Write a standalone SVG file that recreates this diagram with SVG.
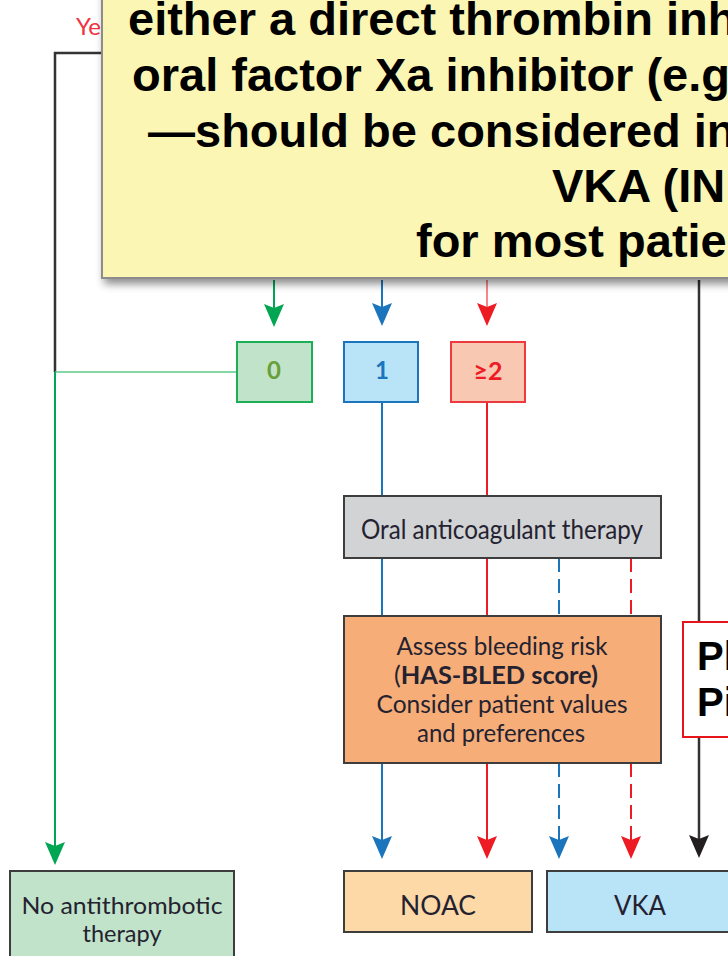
<svg xmlns="http://www.w3.org/2000/svg" width="728" height="956" viewBox="0 0 728 956">
<defs>
<style>
.ln{fill:none;stroke-width:2}
.k{stroke:#333333;stroke-width:2.5}
.g{stroke:#00a651}
.gl{stroke:#5ccb87;stroke-width:1.5}
.b{stroke:#1b75bc}
.r{stroke:#ed1c24}
.rl{stroke:#f26a6f;stroke-width:1.6}
.d{stroke-dasharray:14 7}
.box{stroke:#3d3d3d;stroke-width:2}
.t{font-family:Lato,"Liberation Sans",Arial,sans-serif;fill:#242230;text-anchor:middle}
.big{font-family:"Liberation Sans",Arial,sans-serif;font-weight:bold;font-size:47px;fill:#000}
.num{font-family:Lato,"Liberation Sans",Arial,sans-serif;font-weight:bold;font-size:24px;text-anchor:middle}
</style>
<marker id="mg" markerUnits="userSpaceOnUse" markerWidth="26" markerHeight="24" viewBox="0 -12 26 24" refX="18" refY="0" orient="auto" overflow="visible"><path d="M0,-10 L23,0 L0,10 L4,0 Z" fill="#00a651"/></marker>
<marker id="mb" markerUnits="userSpaceOnUse" markerWidth="26" markerHeight="24" viewBox="0 -12 26 24" refX="18" refY="0" orient="auto" overflow="visible"><path d="M0,-10 L23,0 L0,10 L4,0 Z" fill="#1b75bc"/></marker>
<marker id="mr" markerUnits="userSpaceOnUse" markerWidth="26" markerHeight="24" viewBox="0 -12 26 24" refX="18" refY="0" orient="auto" overflow="visible"><path d="M0,-10 L23,0 L0,10 L4,0 Z" fill="#ed1c24"/></marker>
<marker id="mk" markerUnits="userSpaceOnUse" markerWidth="26" markerHeight="24" viewBox="0 -12 26 24" refX="18" refY="0" orient="auto" overflow="visible"><path d="M0,-10 L23,0 L0,10 L4,0 Z" fill="#231f20"/></marker>
<filter id="sh" x="-5%" y="-5%" width="115%" height="125%"><feDropShadow dx="3" dy="5" stdDeviation="4" flood-color="#000" flood-opacity="0.45"/></filter>
</defs>

<g id="connectors">
<path class="ln k" d="M120,53 H55 V372"/>
<path class="ln gl" d="M237,372 H55"/>
<path class="ln g" d="M55,372 V860" marker-end="url(#mg)"/>
<path class="ln g" d="M274,280 V322" marker-end="url(#mg)"/>
<path class="ln b" d="M382,280 V321" marker-end="url(#mb)"/>
<path class="ln rl" d="M487,280 V321" marker-end="url(#mr)"/>
<path class="ln b" d="M382,402 V496"/>
<path class="ln r" d="M487,402 V496"/>
<path class="ln b" d="M382,558 V616"/>
<path class="ln r" d="M487,558 V616"/>
<path class="ln b d" d="M559,558 V616"/>
<path class="ln r d" d="M631,558 V616"/>
<path class="ln b" d="M382,763 V854" marker-end="url(#mb)"/>
<path class="ln r" d="M487,763 V854" marker-end="url(#mr)"/>
<path class="ln b d" d="M559,763 V854" marker-end="url(#mb)"/>
<path class="ln r d" d="M631,763 V854" marker-end="url(#mr)"/>
<path class="ln k" d="M699,280 V853" marker-end="url(#mk)"/>
</g>

<g id="yes-label">
<text x="76" y="35" font-family="Lato,'Liberation Sans',Arial,sans-serif" font-size="24" fill="#ef3340">Ye</text>
</g>

<g id="note">
<rect x="102" y="-20" width="660" height="298" fill="#fcf6b4" stroke="#8c8c8c" stroke-width="2" filter="url(#sh)"/>
<text class="big" x="128" y="35">either a direct thrombin inh</text>
<text class="big" x="132" y="91">oral factor Xa inhibitor (e.g</text>
<text class="big" x="148" y="147">—should be considered in</text>
<text class="big" x="552" y="202">VKA (IN</text>
<text class="big" x="416" y="257">for most patie</text>
</g>

<g id="score0">
<rect x="237" y="342" width="75" height="60" fill="#c1e3c9" stroke="#1daf55" stroke-width="2"/>
<text class="num" x="274" y="379" fill="#6a9e38">0</text>
</g>
<g id="score1">
<rect x="344" y="342" width="74" height="60" fill="#b9e3f7" stroke="#1b75bc" stroke-width="2"/>
<text class="num" x="382" y="379" fill="#1b75bc">1</text>
</g>
<g id="score2">
<rect x="451" y="342" width="74" height="60" fill="#f9c8b2" stroke="#ed3a3f" stroke-width="2"/>
<text class="num" x="488" y="380" fill="#ed1c24" textLength="29" lengthAdjust="spacingAndGlyphs">≥2</text>
</g>

<g id="oac">
<rect class="box" x="344" y="496" width="317" height="62" fill="#d1d3d4"/>
<text class="t" x="502" y="539" font-size="27" textLength="282" lengthAdjust="spacingAndGlyphs">Oral anticoagulant therapy</text>
</g>

<g id="bleeding">
<rect class="box" x="344" y="616" width="317" height="147" fill="#f6ad78"/>
<text class="t" x="502" y="655" font-size="25" textLength="211" lengthAdjust="spacingAndGlyphs">Assess bleeding risk</text>
<text class="t" x="496" y="684" font-size="25" textLength="204" lengthAdjust="spacingAndGlyphs">(<tspan font-weight="bold">HAS-BLED score)</tspan></text>
<text class="t" x="502" y="713" font-size="25" textLength="251" lengthAdjust="spacingAndGlyphs">Consider patient values</text>
<text class="t" x="501" y="742" font-size="25" textLength="168" lengthAdjust="spacingAndGlyphs">and preferences</text>
</g>

<g id="pi-note">
<rect x="683" y="622" width="80" height="115" fill="#ffffff" stroke="#e8141c" stroke-width="2"/>
<text x="697" y="670" font-family="'Liberation Sans',Arial,sans-serif" font-weight="bold" font-size="40" fill="#000">Pl</text>
<text x="697" y="716" font-family="'Liberation Sans',Arial,sans-serif" font-weight="bold" font-size="40" fill="#000">Pi</text>
</g>

<g id="no-therapy">
<rect class="box" x="10" y="871" width="224" height="100" fill="#c1e3c9"/>
<text class="t" x="122" y="914" font-size="24" textLength="201" lengthAdjust="spacingAndGlyphs">No antithrombotic</text>
<text class="t" x="122" y="942" font-size="24" textLength="79" lengthAdjust="spacingAndGlyphs">therapy</text>
</g>

<g id="noac">
<rect class="box" x="344" y="871" width="188" height="61" fill="#fdd9a8"/>
<text class="t" x="438" y="915" font-size="26" textLength="76" lengthAdjust="spacingAndGlyphs">NOAC</text>
</g>

<g id="vka">
<rect class="box" x="547" y="871" width="200" height="61" fill="#b9e3f7"/>
<text class="t" x="640" y="915" font-size="26" textLength="52" lengthAdjust="spacingAndGlyphs">VKA</text>
</g>
</svg>
